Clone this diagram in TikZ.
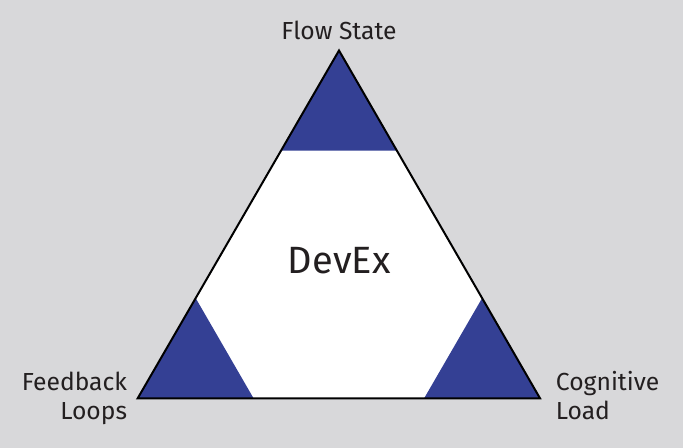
\documentclass[tikz,border=0pt]{standalone}
\usepackage{fontspec}
\setmainfont{Fira Sans}
\usetikzlibrary{calc}
\definecolor{bg}{RGB}{216,216,218}
\definecolor{cornerblue}{RGB}{52,64,148}
\definecolor{txt}{RGB}{35,31,32}
\begin{document}
\begin{tikzpicture}[x=0.75pt,y=-0.75pt,
  lbl/.style={inner sep=0pt,text=txt,font=\fontsize{18.5}{21}\selectfont},
  big/.style={inner sep=0pt,text=txt,font=\fontsize{28.5}{32}\selectfont}]
\fill[bg] (0,0) rectangle (683,448);
\useasboundingbox (0,0) rectangle (683,448);
\coordinate (A) at (339,50.5);
\coordinate (B) at (137.7,398.3);
\coordinate (C) at (540,398.3);
\def\f{0.288}
\fill[white] (A) -- (B) -- (C) -- cycle;
\fill[cornerblue] (A) -- ($(A)!\f!(B)$) -- ($(A)!\f!(C)$) -- cycle;
\fill[cornerblue] (B) -- ($(B)!\f!(A)$) -- ($(B)!\f!(C)$) -- cycle;
\fill[cornerblue] (C) -- ($(C)!\f!(A)$) -- ($(C)!\f!(B)$) -- cycle;
\draw[black,line width=1.5pt,line join=miter] (A) -- (B) -- (C) -- cycle;
\node[lbl,anchor=base] (fs) at (339,39.3) {Flow State};
\node[lbl,anchor=base east] (fb1) at (127.3,390.7) {Feedback};
\node[lbl,anchor=base east] (fb2) at (127.3,419.5) {Loops};
\node[lbl,anchor=base west] (cl1) at (555.7,390.7) {Cognitive};
\node[lbl,anchor=base west] (cl2) at (555.7,419.5) {Load};
\node[big,anchor=base] (dx) at (339.2,273.3) {DevEx};
\end{tikzpicture}
\end{document}
